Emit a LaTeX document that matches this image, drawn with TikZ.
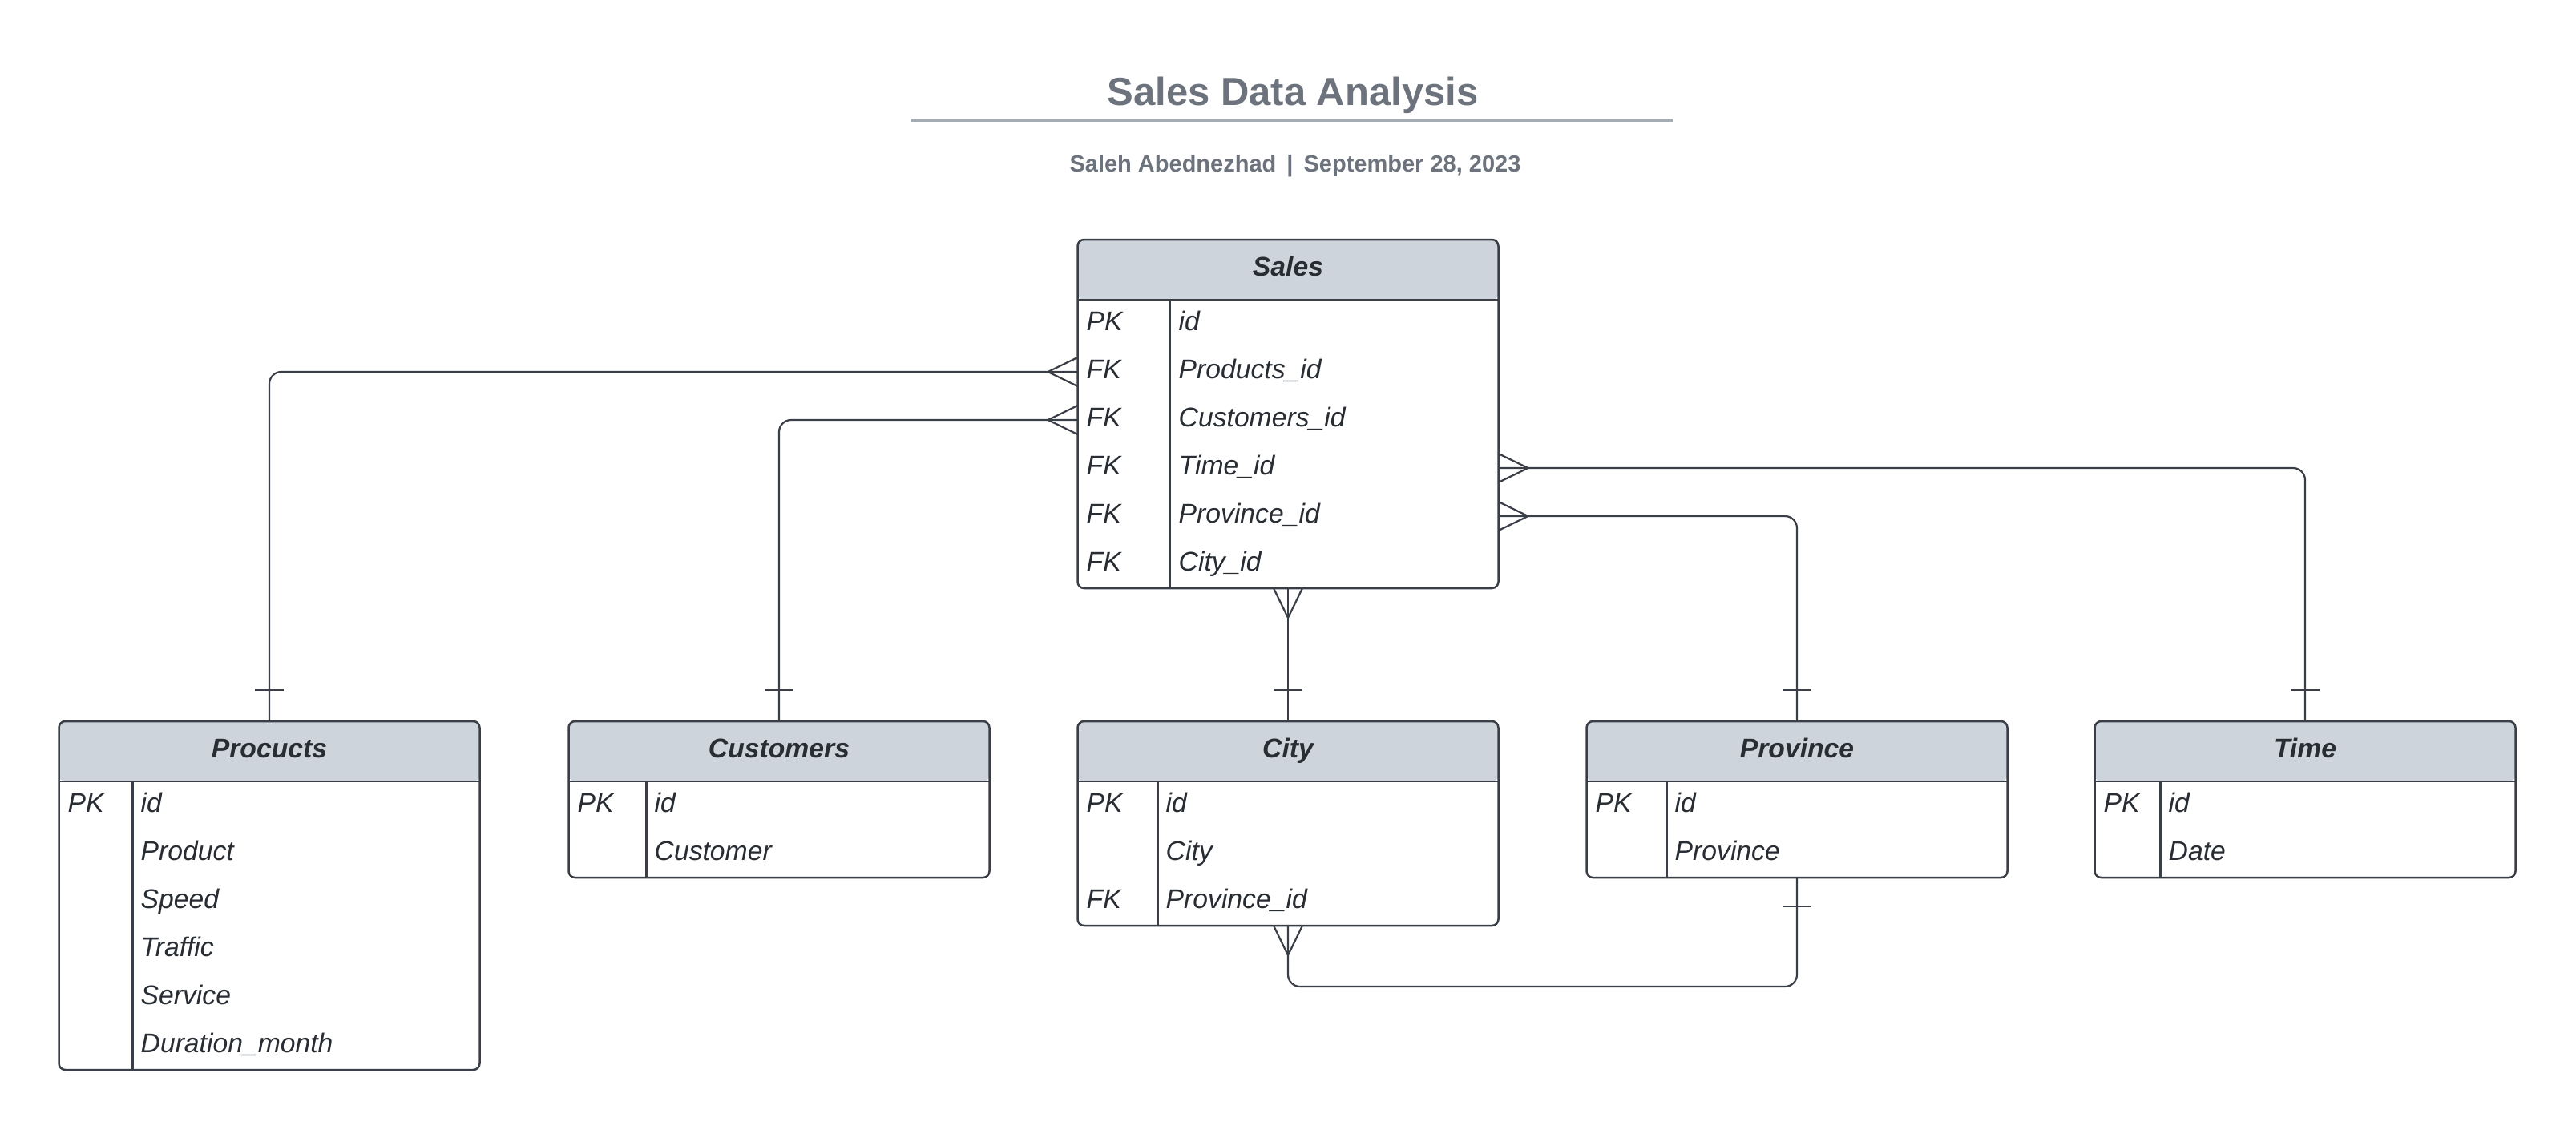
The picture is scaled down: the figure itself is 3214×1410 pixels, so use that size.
\documentclass[tikz,border=0pt]{standalone}
\usepackage{fontspec}
\setmainfont{Liberation Sans}
\usepackage{tikz}
\usetikzlibrary{positioning,calc}
\definecolor{titlegray}{HTML}{6D737D}
\definecolor{rulegray}{HTML}{A5ABB3}
\definecolor{headfill}{HTML}{CED4DB}
\definecolor{erline}{HTML}{3A3E46}
\definecolor{ertext}{HTML}{282C33}

\tikzset{
  crowfoot/.pic={\draw[connline] (0,0) -- (37pt,18pt) (0,0) -- (37pt,-18pt);},
  onetick/.pic={\draw[connline] (-18pt,0) -- (18pt,0);}
}

\begin{document}
\begin{tikzpicture}[x=1pt, y=-1pt,
        tablebox/.style={rectangle, draw=erline, line width=2.5pt,
        rounded corners=8pt, minimum width=525pt, inner sep=0pt,
        outer sep=0pt, anchor=north,
        path picture={\fill[headfill] (path picture bounding box.north west)
          rectangle ([yshift=-75pt]path picture bounding box.north east);}},
        tableline/.style={draw=erline, line width=2.5pt},
        connline/.style={draw=erline, line width=2.2pt},
        headtext/.style={font=\fontsize{33.7}{40}\selectfont\bfseries\itshape,
        text=ertext, inner sep=0pt, anchor=mid},
        keytext/.style={font=\fontsize{33.7}{40}\selectfont\itshape,
        text=ertext, inner sep=0pt, anchor=mid west},
      ]
      \useasboundingbox (0,0) rectangle (3214,1410);

      % Title block
      \node[font=\fontsize{49}{58}\selectfont\bfseries, text=titlegray]
      (title) at (1613,119) {Sales Data Analysis};
      \draw[rulegray, line width=3.5pt] (1137,150) -- (2087,150);
      \node[font=\fontsize{29}{34}\selectfont\bfseries, text=titlegray]
      (byline) at (1616,207) {Saleh Abednezhad\hspace{0.45em}|\hspace{0.45em}September 28, 2023};

      % Sales (top centre)
      \node[tablebox, minimum height=435pt] (sales) at (1607,299) {};
      \draw[tableline] ([yshift=-75pt]sales.north west) -- ([yshift=-75pt]sales.north east);
      \draw[tableline] ([xshift=115pt,yshift=-75pt]sales.north west) -- ([xshift=115pt]sales.south west);
      \node[headtext] (sales-h) at ([yshift=-43pt]sales.north) {Sales};
      \foreach \k/\f [count=\i] in {PK/id, FK/Products\_id, FK/Customers\_id,
        FK/Time\_id, FK/Province\_id, FK/City\_id} {
        \node[keytext] (sales-k\i) at ([xshift=11pt,yshift=-51pt-60pt*\i]sales.north west) {\k};
        \node[keytext] (sales-f\i) at ([xshift=126pt,yshift=-51pt-60pt*\i]sales.north west) {\f};
      }

      % Procucts (bottom left)
      \node[tablebox, minimum height=435pt] (procucts) at (336,900) {};
      \draw[tableline] ([yshift=-75pt]procucts.north west) -- ([yshift=-75pt]procucts.north east);
      \draw[tableline] ([xshift=92pt,yshift=-75pt]procucts.north west) -- ([xshift=92pt]procucts.south west);
      \node[headtext] (procucts-h) at ([yshift=-43pt]procucts.north) {Procucts};
      \foreach \k/\f [count=\i] in {PK/id, {}/Product, {}/Speed, {}/Traffic,
        {}/Service, {}/Duration\_month} {
        \node[keytext] (procucts-k\i) at ([xshift=11pt,yshift=-51pt-60pt*\i]procucts.north west) {\k};
        \node[keytext] (procucts-f\i) at ([xshift=102pt,yshift=-51pt-60pt*\i]procucts.north west) {\f};
      }

      % Customers
      \node[tablebox, minimum height=195pt] (customers) at (972,900) {};
      \draw[tableline] ([yshift=-75pt]customers.north west) -- ([yshift=-75pt]customers.north east);
      \draw[tableline] ([xshift=97pt,yshift=-75pt]customers.north west) -- ([xshift=97pt]customers.south west);
      \node[headtext] (customers-h) at ([yshift=-43pt]customers.north) {Customers};
      \foreach \k/\f [count=\i] in {PK/id, {}/Customer} {
        \node[keytext] (customers-k\i) at ([xshift=11pt,yshift=-51pt-60pt*\i]customers.north west) {\k};
        \node[keytext] (customers-f\i) at ([xshift=107pt,yshift=-51pt-60pt*\i]customers.north west) {\f};
      }

      % City
      \node[tablebox, minimum height=255pt] (city) at (1607,900) {};
      \draw[tableline] ([yshift=-75pt]city.north west) -- ([yshift=-75pt]city.north east);
      \draw[tableline] ([xshift=100pt,yshift=-75pt]city.north west) -- ([xshift=100pt]city.south west);
      \node[headtext] (city-h) at ([yshift=-43pt]city.north) {City};
      \foreach \k/\f [count=\i] in {PK/id, {}/City, FK/Province\_id} {
        \node[keytext] (city-k\i) at ([xshift=11pt,yshift=-51pt-60pt*\i]city.north west) {\k};
        \node[keytext] (city-f\i) at ([xshift=110pt,yshift=-51pt-60pt*\i]city.north west) {\f};
      }

      % Province
      \node[tablebox, minimum height=195pt] (province) at (2242,900) {};
      \draw[tableline] ([yshift=-75pt]province.north west) -- ([yshift=-75pt]province.north east);
      \draw[tableline] ([xshift=100pt,yshift=-75pt]province.north west) -- ([xshift=100pt]province.south west);
      \node[headtext] (province-h) at ([yshift=-43pt]province.north) {Province};
      \foreach \k/\f [count=\i] in {PK/id, {}/Province} {
        \node[keytext] (province-k\i) at ([xshift=11pt,yshift=-51pt-60pt*\i]province.north west) {\k};
        \node[keytext] (province-f\i) at ([xshift=110pt,yshift=-51pt-60pt*\i]province.north west) {\f};
      }

      % Time (bottom right)
      \node[tablebox, minimum height=195pt] (time) at (2876,900) {};
      \draw[tableline] ([yshift=-75pt]time.north west) -- ([yshift=-75pt]time.north east);
      \draw[tableline] ([xshift=82pt,yshift=-75pt]time.north west) -- ([xshift=82pt]time.south west);
      \node[headtext] (time-h) at ([yshift=-43pt]time.north) {Time};
      \foreach \k/\f [count=\i] in {PK/id, {}/Date} {
        \node[keytext] (time-k\i) at ([xshift=11pt,yshift=-51pt-60pt*\i]time.north west) {\k};
        \node[keytext] (time-f\i) at ([xshift=92pt,yshift=-51pt-60pt*\i]time.north west) {\f};
      }

      % Relationships: many on the Sales / City side, one on the other
      \coordinate (prod-end) at ([yshift=-165pt]sales.north west);
      \coordinate (cust-end) at ([yshift=-225pt]sales.north west);
      \coordinate (time-end) at ([yshift=-285pt]sales.north east);
      \coordinate (prov-end) at ([yshift=-345pt]sales.north east);

      \draw[connline, rounded corners=15pt] (prod-end) -| (procucts.north);
      \path (prod-end) ++(-37,0) pic {crowfoot};
      \path ([yshift=39pt]procucts.north) pic {onetick};

      \draw[connline, rounded corners=15pt] (cust-end) -| (customers.north);
      \path (cust-end) ++(-37,0) pic {crowfoot};
      \path ([yshift=39pt]customers.north) pic {onetick};

      \draw[connline, rounded corners=15pt] (time-end) -| (time.north);
      \path (time-end) ++(37,0) pic[rotate=180] {crowfoot};
      \path ([yshift=39pt]time.north) pic {onetick};

      \draw[connline, rounded corners=15pt] (prov-end) -| (province.north);
      \path (prov-end) ++(37,0) pic[rotate=180] {crowfoot};
      \path ([yshift=39pt]province.north) pic {onetick};

      \draw[connline] (sales.south) -- (city.north);
      \path (sales.south) ++(0,37) pic[rotate=90] {crowfoot};
      \path ([yshift=39pt]city.north) pic {onetick};

      \draw[connline, rounded corners=15pt] (city.south) -- ++(0,76) -| (province.south);
      \path (city.south) ++(0,37) pic[rotate=90] {crowfoot};
      \path ([yshift=-36pt]province.south) pic {onetick};
    \end{tikzpicture}
\end{document}
